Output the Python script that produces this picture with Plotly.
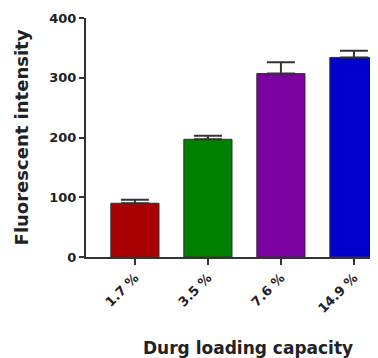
import plotly.graph_objects as go

categories = ["1.7 %", "3.5 %", "7.6 %", "14.9 %"]
values = [90, 197, 307, 334]
errors = [6, 6, 19, 11]
colors = ["#A80000", "#007F00", "#7A00A0", "#0000CC"]
y_ticks = [0, 100, 200, 300, 400]

FONT = "DejaVu Sans, Verdana, sans-serif"

fig = go.Figure()
fig.add_trace(go.Bar(
    x=list(range(len(categories))),
    y=values,
    marker=dict(color=colors, line=dict(color="#333333", width=1)),
    error_y=dict(type="data", array=errors, symmetric=False, arrayminus=[0]*4,
                 color="#333333", thickness=2, width=14),
    width=0.66,
))

fig.update_layout(
    width=370, height=350,
    margin=dict(l=78, r=0, t=10, b=101),
    paper_bgcolor="white", plot_bgcolor="white",
    showlegend=False,
    font=dict(family=FONT, color="#222222"),
)
fig.update_xaxes(
    range=[-0.67, 3.33],
    tickmode="array", tickvals=list(range(len(categories))), ticktext=categories,
    tickangle=-45,
    tickfont=dict(size=13, family=FONT, weight="bold"),
    showline=True, linecolor="#333333", linewidth=2,
    ticks="outside", ticklen=6, tickwidth=2, tickcolor="#333333",
    showgrid=False, zeroline=False,
)
fig.update_yaxes(
    range=[0, 400],
    tickmode="array", tickvals=y_ticks,
    tickfont=dict(size=13, family=FONT, weight="bold"),
    showline=True, linecolor="#333333", linewidth=2,
    ticks="outside", ticklen=5, tickwidth=2, tickcolor="#333333",
    showgrid=False, zeroline=False,
    title=dict(text="Fluorescent intensity", standoff=16,
               font=dict(size=18, family=FONT, weight="bold")),
)
fig.add_annotation(
    text="Durg loading capacity", xref="paper", yref="paper",
    x=0.555, y=0, yshift=-79, xanchor="center", yanchor="top", showarrow=False,
    font=dict(size=17, family=FONT, weight="bold", color="#222222"),
)

fig.write_html("out.html")
